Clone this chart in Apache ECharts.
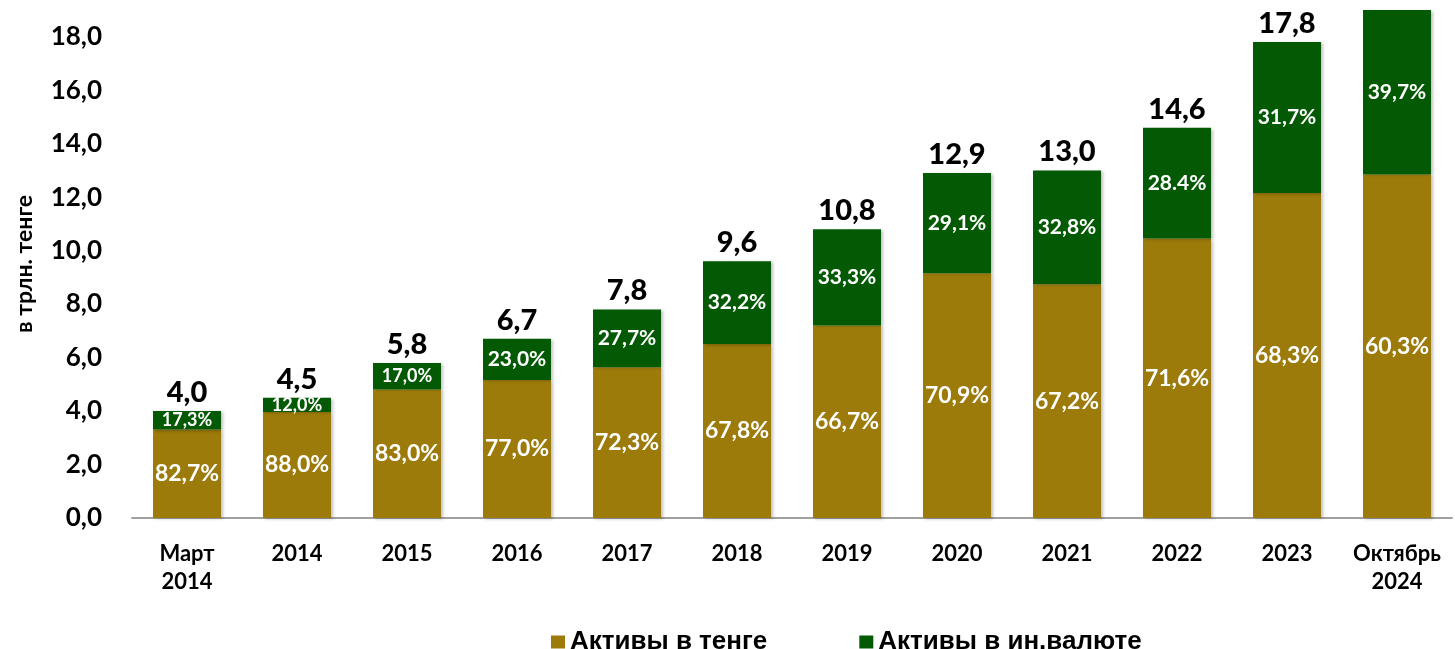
<!DOCTYPE html>
<html>
<head>
<meta charset="utf-8">
<script src="https://cdn.jsdelivr.net/npm/echarts@6.0.0/dist/echarts.min.js"></script>
<style>
html,body{margin:0;padding:0;background:#fff;}
#chart{width:1455px;height:649px;}
</style>
</head>
<body>
<div id="chart"></div>
<script>
// ---- data ----
var categories = ['Март\n2014', '2014', '2015', '2016', '2017', '2018', '2019', '2020', '2021', '2022', '2023', 'Октябрь\n2024'];
var tengeValues = [3.31, 3.96, 4.81, 5.16, 5.64, 6.51, 7.20, 9.15, 8.74, 10.45, 12.16, 12.85];
var foreignValues = [0.69, 0.54, 0.99, 1.54, 2.16, 3.09, 3.60, 3.75, 4.26, 4.15, 5.64, 8.46];
var totals = [4.0, 4.5, 5.8, 6.7, 7.8, 9.6, 10.8, 12.9, 13.0, 14.6, 17.8, 21.3];
var totalLabels = ['4,0', '4,5', '5,8', '6,7', '7,8', '9,6', '10,8', '12,9', '13,0', '14,6', '17,8', '21,3'];
var tengePct = ['82,7%', '88,0%', '83,0%', '77,0%', '72,3%', '67,8%', '66,7%', '70,9%', '67,2%', '71,6%', '68,3%', '60,3%'];
var foreignPct = ['17,3%', '12,0%', '17,0%', '23,0%', '27,7%', '32,2%', '33,3%', '29,1%', '32,8%', '28.4%', '31,7%', '39,7%'];
var yTicks = ['0,0', '2,0', '4,0', '6,0', '8,0', '10,0', '12,0', '14,0', '16,0', '18,0'];
var seriesNames = ['Активы в тенге', 'Активы в ин.валюте'];

// ---- styles ----
var TENGE = '#9C7B0A';
var FOREIGN = '#045A04';
var NUM_FONT = 'Lato';

var chart = echarts.init(document.getElementById('chart'), null, {renderer: 'canvas'});

var barShadow = {shadowBlur: 3, shadowColor: 'rgba(0,0,0,0.25)', shadowOffsetX: 2, shadowOffsetY: 1};

var foreignData = foreignValues.map(function (v) {
  return {value: v, label: {fontSize: v < 1.0 ? 18 : 21}};
});

var option = {
  backgroundColor: '#ffffff',
  animation: false,
  grid: {left: 132, right: 3, top: 10, bottom: 131},
  legend: {
    data: seriesNames,
    left: 546,
    top: 624,
    icon: 'rect',
    itemWidth: 14,
    itemHeight: 13,
    itemGap: 92,
    textStyle: {fontFamily: 'Liberation Sans', fontWeight: 'bold', fontSize: 26, color: '#000'}
  },
  xAxis: {
    type: 'category',
    data: categories,
    axisLine: {lineStyle: {color: '#A0A0A0', width: 2}},
    axisTick: {show: false},
    axisLabel: {
      fontFamily: NUM_FONT, fontWeight: 'bold', fontSize: 22, color: '#000',
      lineHeight: 28, margin: 22, interval: 0
    }
  },
  yAxis: {
    type: 'value',
    min: 0,
    max: 19,
    interval: 2,
    name: 'в трлн. тенге',
    nameLocation: 'middle',
    nameGap: 96,
    nameTextStyle: {fontFamily: NUM_FONT, fontWeight: 'bold', fontSize: 23, color: '#000'},
    axisLine: {show: false},
    axisTick: {show: false},
    splitLine: {show: false},
    axisLabel: {
      fontFamily: NUM_FONT, fontWeight: 'bold', fontSize: 26, color: '#000', margin: 30,
      showMaxLabel: false,
      formatter: function (v) {
        var i = Math.round(v / 2);
        return (v % 2 === 0 && yTicks[i] !== undefined) ? yTicks[i] : '';
      }
    }
  },
  series: [
    {
      name: seriesNames[0],
      type: 'bar',
      stack: 'total',
      barWidth: 68,
      data: tengeValues,
      itemStyle: Object.assign({color: TENGE}, barShadow),
      label: {
        show: true, position: 'inside',
        fontFamily: NUM_FONT, fontWeight: 'bold', fontSize: 23, color: '#fff',
        formatter: function (p) { return tengePct[p.dataIndex]; }
      }
    },
    {
      name: seriesNames[1],
      type: 'bar',
      stack: 'total',
      barWidth: 68,
      data: foreignData,
      itemStyle: Object.assign({color: FOREIGN}, barShadow),
      label: {
        show: true, position: 'inside',
        fontFamily: NUM_FONT, fontWeight: 'bold', fontSize: 21, color: '#fff',
        formatter: function (p) { return foreignPct[p.dataIndex]; }
      }
    },
    {
      name: 'total',
      type: 'scatter',
      data: totals,
      symbolSize: 0,
      clip: true,
      itemStyle: {color: '#000', opacity: 1},
      label: {
        show: true, position: 'top', distance: 4,
        fontFamily: NUM_FONT, fontWeight: 900, fontSize: 29, color: '#000', opacity: 1,
        formatter: function (p) { return totalLabels[p.dataIndex]; }
      },
      emphasis: {disabled: true},
      silent: true
    }
  ]
};

chart.setOption(option);
</script>
</body>
</html>
